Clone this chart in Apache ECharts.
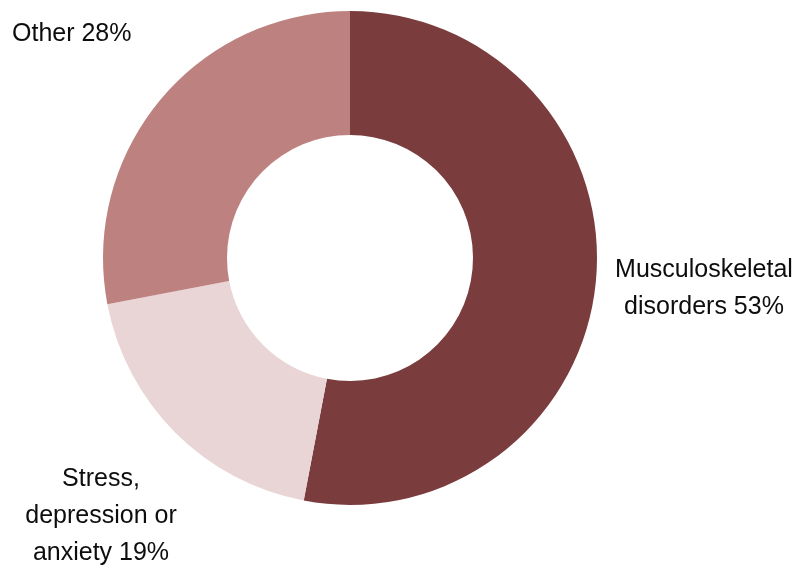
<!DOCTYPE html>
<html>
<head>
<meta charset="utf-8">
<style>
  html, body { margin: 0; padding: 0; background: #ffffff; }
  #chart { width: 798px; height: 571px; }
</style>
<script src="https://cdn.jsdelivr.net/npm/echarts@6/dist/echarts.min.js"></script>
</head>
<body>
<div id="chart"></div>
<script>
// Causes of work-related ill health (share of cases, %)
const categories = ['Musculoskeletal\ndisorders', 'Stress,\ndepression or\nanxiety', 'Other'];
const shares = [53, 19, 28];
const sliceColors = ['#7a3c3d', '#e9d5d6', '#bd8280'];

// Where each slice's caption sits, with its alignment
const labelSpots = [
  { x: 704, y: 289, align: 'center' },
  { x: 101, y: 516, align: 'center' },
  { x: 12, y: 34, align: 'left' }
];

const chart = echarts.init(document.getElementById('chart'), null, { renderer: 'canvas' });

chart.setOption({
  animation: false,
  backgroundColor: '#ffffff',
  series: [{
    type: 'pie',
    center: [350, 258],
    radius: [123, 247],
    startAngle: 90,
    clockwise: true,
    avoidLabelOverlap: false,
    silent: true,
    data: categories.map((name, i) => ({
      name: name,
      value: shares[i],
      itemStyle: { color: sliceColors[i] }
    })),
    itemStyle: { borderWidth: 0 },
    label: {
      show: true,
      position: 'outside',
      formatter: '{b} {c}%',
      fontFamily: '"Liberation Sans", Arial, sans-serif',
      fontSize: 25,
      lineHeight: 37,
      color: '#0d0d0d'
    },
    labelLine: { show: false },
    labelLayout: function (params) {
      const spot = labelSpots[params.dataIndex];
      return {
        x: spot.x,
        y: spot.y,
        align: spot.align,
        verticalAlign: 'middle'
      };
    }
  }]
});
</script>
</body>
</html>
